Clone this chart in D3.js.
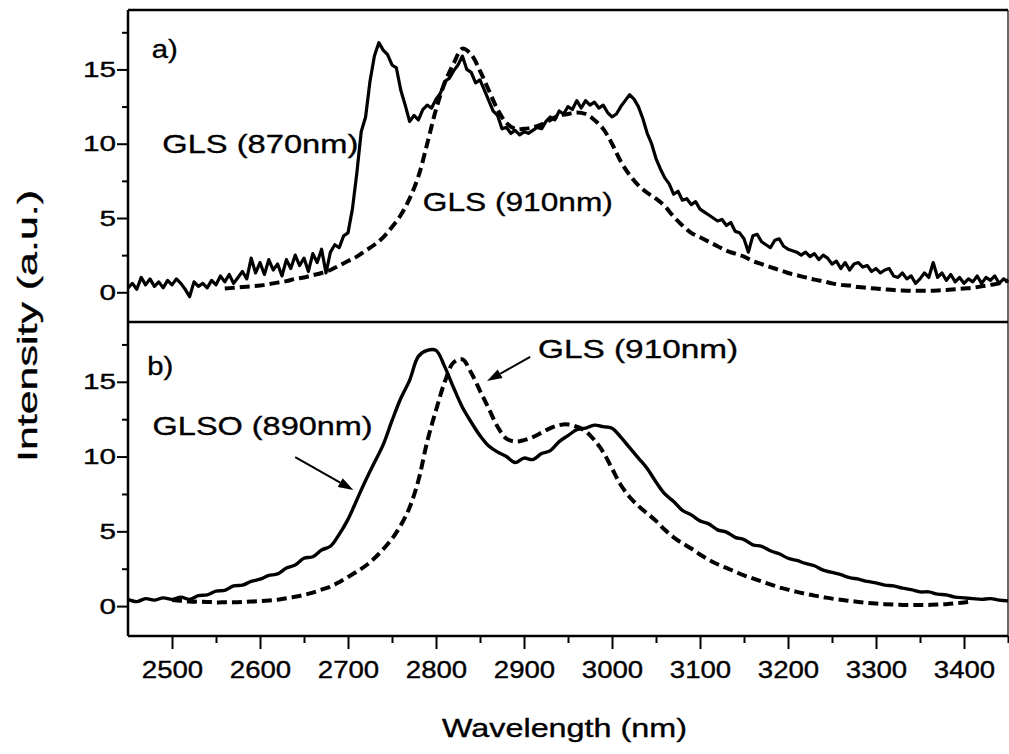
<!DOCTYPE html>
<html>
<head>
<meta charset="utf-8">
<script src="https://cdn.jsdelivr.net/npm/d3@7"></script>
<style>
  body { margin: 0; background: #fff; }
  svg { display: block; }
  text { font-family: "Liberation Sans", Arial, Helvetica, sans-serif; fill: #000; stroke: #000; stroke-width: 0.35px; }
</style>
</head>
<body>
<svg id="chart" width="1009" height="754"></svg>
<script>
// ---- Emission spectra (wavelength in nm, intensity in a.u.) ----

// Panel a) solid: GLS pumped at 870 nm, sampled every 5 nm from 2450 nm
const gls870Start = 2450, gls870Step = 5;
const gls870 = [
  0.3, 0.6, 0.2, 1.0, 0.5, 0.9, 0.4, 0.7, 0.3, 0.8,
  0.5, 0.9, 0.6, 0.2, -0.3, 0.7, 0.4, 0.6, 0.3, 0.8,
  0.5, 1.1, 0.7, 1.2, 0.6, 1.0, 1.4, 0.9, 2.3, 1.3,
  2.0, 1.2, 2.2, 1.5, 1.9, 1.1, 2.2, 1.6, 2.5, 1.8,
  2.3, 1.4, 2.6, 2.0, 2.9, 1.3, 2.7, 3.2, 3.0, 3.8,
  4.0, 5.6, 8.0, 10.8, 11.8, 14.2, 15.9, 16.8, 16.3, 16.0,
  15.3, 15.1, 13.6, 12.6, 11.5, 11.9, 11.6, 12.3, 12.6, 12.4,
  13.0, 13.4, 14.2, 14.4, 14.9, 15.3, 15.9, 15.0, 14.8, 14.1,
  14.3, 13.6, 12.9, 12.2, 11.9, 11.0, 11.1, 10.7, 10.9, 10.6,
  10.8, 10.7, 10.9, 11.1, 11.0, 11.5, 11.8, 11.6, 12.2, 12.0,
  12.5, 12.3, 12.9, 12.4, 12.9, 12.6, 12.8, 12.4, 12.6, 12.1,
  11.8, 12.0, 12.5, 12.9, 13.3, 13.0, 12.5, 11.7, 10.7, 10.0,
  9.0, 8.3, 7.7, 7.3, 6.6, 6.8, 6.2, 6.3, 5.9, 6.1,
  5.6, 5.4, 5.2, 5.0, 4.8, 4.9, 4.5, 4.7, 4.1, 4.0,
  3.6, 2.7, 3.8, 3.9, 3.4, 3.2, 3.0, 3.5, 3.6, 3.1,
  2.9, 2.8, 2.7, 2.5, 2.7, 2.4, 2.6, 2.2, 2.5, 2.3,
  1.9, 2.1, 1.6, 2.0, 1.5, 1.9, 2.0, 1.7, 1.8, 1.4,
  1.6, 1.3, 1.5, 1.6, 1.1, 1.0, 1.3, 0.9, 1.1, 0.6,
  0.9, 1.3, 1.0, 2.0, 1.0, 1.3, 0.8, 1.2, 0.7, 1.0,
  0.6, 0.9, 0.7, 1.1, 0.6, 1.0, 0.8, 1.1, 0.6, 0.9,
  0.7
];

// Panel a) dashed: GLS pumped at 910 nm, every 10 nm from 2560 nm
const gls910aStart = 2560, gls910aStep = 10;
const gls910a = [
  0.25, 0.3, 0.35, 0.4, 0.45, 0.55, 0.65, 0.75, 0.9, 1.0,
  1.15, 1.3, 1.5, 1.8, 2.1, 2.4, 2.8, 3.2, 3.7, 4.4,
  5.2, 6.3, 7.8, 10.0, 12.3, 14.1, 15.4, 16.4, 16.0, 14.9,
  13.6, 12.3, 11.4, 11.0, 11.0, 11.1, 11.3, 11.6, 11.9, 12.0,
  12.1, 12.0, 11.6, 11.0, 10.0, 8.8, 7.9, 7.2, 6.7, 6.3,
  5.8, 5.1, 4.5, 4.0, 3.7, 3.4, 3.1, 2.8, 2.6, 2.4,
  2.1, 1.9, 1.7, 1.5, 1.3, 1.15, 1.0, 0.85, 0.75, 0.6,
  0.5, 0.45, 0.35, 0.3, 0.25, 0.2, 0.15, 0.12, 0.1, 0.1,
  0.1, 0.12, 0.15, 0.2, 0.25, 0.3, 0.4, 0.5, 0.6, 0.8
];

// Panel b) solid: GLSO pumped at 890 nm, every 10 nm from 2450 nm
const glso890Start = 2450, glso890Step = 10;
const glso890 = [
  0.45, 0.3, 0.5, 0.4, 0.55, 0.45, 0.6, 0.45, 0.7, 0.75,
  1.0, 1.05, 1.35, 1.4, 1.65, 1.8, 2.05, 2.15, 2.55, 2.75,
  3.2, 3.3, 3.75, 4.0, 4.8, 5.8, 7.1, 8.4, 9.6, 10.8,
  12.4, 13.9, 15.1, 16.7, 17.1, 17.1, 16.0, 14.6, 13.3, 12.3,
  11.4, 10.7, 10.3, 10.0, 9.6, 9.9, 9.8, 10.2, 10.4, 11.0,
  11.4, 11.8, 11.9, 12.1, 12.0, 11.9, 11.3, 10.6, 9.9, 9.2,
  8.3, 7.5, 7.0, 6.4, 6.1, 5.7, 5.5, 5.1, 4.95, 4.6,
  4.45, 4.1, 4.0, 3.7, 3.5, 3.2, 3.05, 2.85, 2.7, 2.4,
  2.25, 2.1, 1.9, 1.8, 1.65, 1.55, 1.4, 1.35, 1.2, 1.1,
  0.95, 0.95, 0.8, 0.75, 0.6, 0.55, 0.5, 0.45, 0.5, 0.4,
  0.35
];

// Panel b) dashed: GLS pumped at 910 nm, every 10 nm from 2500 nm
const gls910bStart = 2500, gls910bStep = 10;
const gls910b = [
  0.4, 0.35, 0.3, 0.3, 0.28, 0.25, 0.25, 0.25, 0.27, 0.3,
  0.33, 0.37, 0.43, 0.52, 0.62, 0.75, 0.9, 1.1, 1.3, 1.6,
  1.95, 2.3, 2.7, 3.2, 3.8, 4.5, 5.4, 6.6, 8.4, 11.0,
  13.1, 15.0, 16.3, 16.5, 15.6, 14.4, 13.2, 12.0, 11.2, 11.0,
  11.1, 11.3, 11.6, 11.9, 12.1, 12.15, 12.0, 11.7, 11.1, 10.3,
  9.2, 8.1, 7.3, 6.7, 6.2, 5.7, 5.1, 4.6, 4.2, 3.85,
  3.45, 3.1, 2.8, 2.55, 2.3, 2.05, 1.85, 1.65, 1.45, 1.25,
  1.1, 0.95, 0.82, 0.7, 0.6, 0.5, 0.42, 0.35, 0.28, 0.22,
  0.17, 0.13, 0.1, 0.08, 0.07, 0.07, 0.08, 0.1, 0.13, 0.18,
  0.24, 0.32
];

// Axis ticks
const xMajorTicks = [2500, 2600, 2700, 2800, 2900, 3000, 3100, 3200, 3300, 3400];
const xMinorTicks = [2550, 2650, 2750, 2850, 2950, 3050, 3150, 3250, 3350, 3450];
const yMajorTicks = [0, 5, 10, 15];
const yMinorTicks = [2.5, 7.5, 12.5, 17.5];

// Text
const panelTags = ["a)", "b)"];
const labels = {
  a870: "GLS (870nm)",
  a910: "GLS (910nm)",
  b890: "GLSO (890nm)",
  b910: "GLS (910nm)"
};
const xTitle = "Wavelength (nm)";
const yTitle = "Intensity (a.u.)";

// ---- Layout ----
const svg = d3.select("#chart");
const left = 128, right = 1008;
const topA = 10, midY = 322, botB = 636;

const x = d3.scaleLinear().domain([2450, 3450]).range([left, right]);
const yA = d3.scaleLinear().domain([-2, 19]).range([midY, topA]);
const yB = d3.scaleLinear().domain([-2, 19]).range([botB, midY]);

// stretch a text selection horizontally by factor k (wide lettering)
function stretch(sel, k) {
  sel.each(function () {
    const n = this.getComputedTextLength();
    d3.select(this).attr("textLength", n * k).attr("lengthAdjust", "spacingAndGlyphs");
  });
}
function setWidth(sel, w) {
  sel.attr("textLength", w).attr("lengthAdjust", "spacingAndGlyphs");
}

// ---- Curves ----
function series(values, start, step, y, curve) {
  return d3.line()
    .x((d, i) => x(start + i * step))
    .y(d => y(d))
    .curve(curve)(values);
}

const plot = svg.append("g");
plot.append("path")
  .attr("d", series(gls910a, gls910aStart, gls910aStep, yA, d3.curveCatmullRom))
  .attr("fill", "none").attr("stroke", "#000").attr("stroke-width", 4)
  .attr("stroke-dasharray", "10,5");
plot.append("path")
  .attr("d", series(gls870, gls870Start, gls870Step, yA, d3.curveLinear))
  .attr("fill", "none").attr("stroke", "#000").attr("stroke-width", 3.2)
  .attr("stroke-linejoin", "round");
plot.append("path")
  .attr("d", series(gls910b, gls910bStart, gls910bStep, yB, d3.curveCatmullRom))
  .attr("fill", "none").attr("stroke", "#000").attr("stroke-width", 4)
  .attr("stroke-dasharray", "10,5");
plot.append("path")
  .attr("d", series(glso890, glso890Start, glso890Step, yB, d3.curveCatmullRom))
  .attr("fill", "none").attr("stroke", "#000").attr("stroke-width", 3.4)
  .attr("stroke-linejoin", "round");

// ---- Frame ----
const frame = svg.append("g").attr("stroke", "#000").attr("stroke-width", 2.5).attr("fill", "none");
frame.append("line").attr("x1", left).attr("x2", right).attr("y1", topA).attr("y2", topA);
frame.append("line").attr("x1", left).attr("x2", right).attr("y1", midY).attr("y2", midY);
frame.append("line").attr("x1", right).attr("x2", right).attr("y1", topA).attr("y2", botB).attr("stroke-width", 1.2);

// ---- Axes ----
function styleAxis(g) {
  g.select(".domain").attr("stroke-width", 2.5);
  g.selectAll(".tick line").attr("stroke-width", 2);
}

[yA, yB].forEach(y => {
  const gMinor = svg.append("g").attr("transform", `translate(${left},0)`)
    .call(d3.axisLeft(y).tickValues(yMinorTicks).tickSize(6).tickFormat(""))
    .call(styleAxis);
  gMinor.select(".domain").remove();
  const g = svg.append("g").attr("transform", `translate(${left},0)`)
    .call(d3.axisLeft(y).tickValues(yMajorTicks).tickSize(11).tickPadding(1).tickFormat(d3.format("d")))
    .call(styleAxis);
  g.select(".domain").attr("d", `M0,${y.range()[0]}V${y.range()[1]}`);
  g.selectAll(".tick text").attr("font-size", 22);
  stretch(g.selectAll(".tick text"), 1.35);
});

const gxMinor = svg.append("g").attr("transform", `translate(0,${botB})`)
  .call(d3.axisBottom(x).tickValues(xMinorTicks).tickSize(7).tickFormat(""))
  .call(styleAxis);
gxMinor.select(".domain").remove();
const gx = svg.append("g").attr("transform", `translate(0,${botB})`)
  .call(d3.axisBottom(x).tickValues(xMajorTicks).tickSize(13).tickPadding(13).tickFormat(d3.format("d")))
  .call(styleAxis);
gx.select(".domain").attr("d", `M${left},0H${right}`);
gx.selectAll(".tick text").attr("font-size", 23);
stretch(gx.selectAll(".tick text"), 1.2);

// Axis titles
setWidth(svg.append("text")
  .attr("x", (442 + 687) / 2).attr("y", 737)
  .attr("text-anchor", "middle").attr("font-size", 25)
  .text(xTitle), 245);

setWidth(svg.append("text")
  .attr("transform", `translate(37,${(yA(-2) + yB(19)) / 2 + 4}) rotate(-90)`)
  .attr("text-anchor", "middle").attr("font-size", 28)
  .text(yTitle), 272);

// ---- Annotations ----
const ann = svg.append("g").attr("font-size", 25);
function label(txt, wl, v, y, w) {
  const t = ann.append("text").attr("x", x(wl)).attr("y", y(v)).text(txt);
  if (w) setWidth(t, w);
  return t;
}
label(panelTags[0], 2477, 15.75, yA, 26);
label(panelTags[1], 2472, 15.45, yB, 26);
label(labels.a870, 2489, 9.4, yA, 196);
label(labels.a910, 2785, 5.5, yA, 190);
label(labels.b890, 2478, 11.45, yB, 220);
label(labels.b910, 2916, 16.6, yB, 200);

// Arrows pointing from labels to curves in panel b)
function arrow(w0, v0, w1, v1, y) {
  const x0 = x(w0), y0 = y(v0), x1 = x(w1), y1 = y(v1);
  const ang = Math.atan2(y1 - y0, x1 - x0);
  const len = 15, half = 5;
  const bx = x1 - len * Math.cos(ang), by = y1 - len * Math.sin(ang);
  ann.append("line").attr("x1", x0).attr("y1", y0).attr("x2", bx).attr("y2", by)
    .attr("stroke", "#000").attr("stroke-width", 2);
  const px = -Math.sin(ang) * half, py = Math.cos(ang) * half;
  ann.append("path")
    .attr("d", `M${x1},${y1}L${bx + px},${by + py}L${bx - px},${by - py}Z`)
    .attr("fill", "#000");
}
arrow(2640, 9.97, 2706, 7.76, yB);
arrow(2907, 16.66, 2858, 15.05, yB);
</script>
</body>
</html>
